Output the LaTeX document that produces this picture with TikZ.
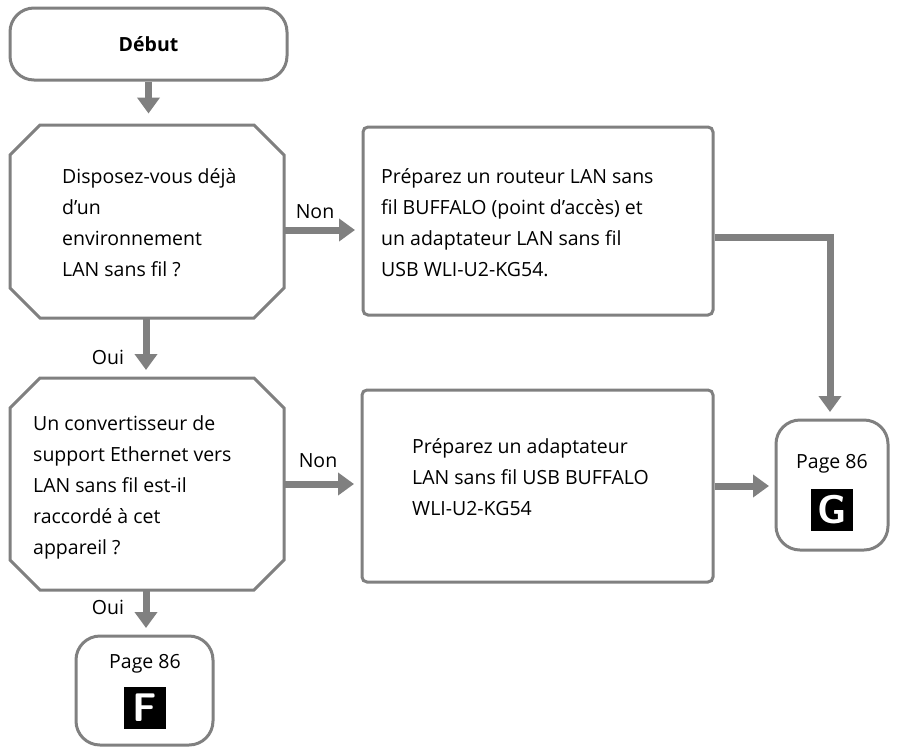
\documentclass[tikz,border=0pt]{standalone}
\usepackage{fontspec}
\setmainfont{Open Sans}
\usetikzlibrary{arrows.meta}
\definecolor{gr}{HTML}{808080}
\tikzset{
  box/.style={draw=gr,line width=3pt,rounded corners=5pt,inner sep=0pt},
  term/.style={draw=gr,line width=3pt,rounded corners=24pt,inner sep=0pt},
  arr/.style={draw=gr,line width=7pt,-{Triangle[width=22pt,length=16pt]}},
  oct/.style={draw=gr,line width=3pt},
  txt/.style={align=left,font=\fontsize{19.5}{31}\selectfont,anchor=north west,inner sep=0pt},
  lab/.style={font=\fontsize{19.5}{22}\selectfont,inner sep=0pt},
  blk/.style={fill=black,text=white,minimum size=42pt,inner sep=0pt,font=\sffamily\bfseries\fontsize{40}{40}\selectfont}
}
\begin{document}
\begin{tikzpicture}[x=1pt,y=-1pt]
\useasboundingbox (0,0) rectangle (901,753);
\node[term,minimum width=277pt,minimum height=72pt] (start) at (148.5,44) {};
\node[lab,font=\bfseries\fontsize{19.5}{22}\selectfont] at (148.5,44) {Début};
% octagon 1
\draw[oct] (40,125)--(254,125)--(284,155)--(284,288)--(254,318)--(40,318)--(10,288)--(10,155)--cycle;
\coordinate (q1b) at (146,318); \coordinate (q1r) at (284,230);
\node[txt] (q1) at (62,168) {Disposez-vous déjà\\d’un\\environnement\\LAN sans fil ?};
\node[box,minimum width=350pt,minimum height=188pt] (b1) at (538,221) {};
\node[txt] (b1t) at (381,168) {Préparez un routeur LAN sans\\fil BUFFALO (point d’accès) et\\un adaptateur LAN sans fil\\USB WLI-U2-KG54.};
% octagon 2
\draw[oct] (40,378)--(254,378)--(284,408)--(284,560)--(254,590)--(40,590)--(10,560)--(10,408)--cycle;
\coordinate (q2b) at (146,590); \coordinate (q2r) at (284,484);
\node[txt] (q2) at (33,415) {Un convertisseur de\\support Ethernet vers\\LAN sans fil est-il\\raccordé à cet\\appareil ?};
\node[box,minimum width=351pt,minimum height=192pt] (b2) at (537.5,486) {};
\node[txt] (b2t) at (412,438) {Préparez un adaptateur\\LAN sans fil USB BUFFALO\\WLI-U2-KG54};
% G
\node[term,minimum width=112pt,minimum height=130pt] (g) at (832,485) {};
\node[lab] (gp) at (832,464) {Page 86};
\node[blk] (gl) at (832,510) {G};
% F
\node[term,minimum width=137pt,minimum height=109pt] (f) at (144.5,690.5) {};
\node[lab] (fp) at (145,664) {Page 86};
\node[blk] (fl) at (145,708) {F};
% labels
\node[lab] (n1) at (315,212) {Non};
\node[lab] (n2) at (318,461) {Non};
\node[lab] (o1) at (108,357) {Oui};
\node[lab] (o2) at (108,607) {Oui};
% arrows
\draw[arr] (start.south) -- ++(0,32);
\draw[arr] (q1b) -- ++(0,52);
\draw[arr] (q1r) -- (355,230);
\draw[arr] (b1.east|-0,237) -- (830,237) -- (830,412);
\draw[arr] (q2r) -- (354,484);
\draw[arr] (b2.east|-0,486) -- (769,486);
\draw[arr] (q2b) -- ++(0,38);
\end{tikzpicture}
\end{document}
